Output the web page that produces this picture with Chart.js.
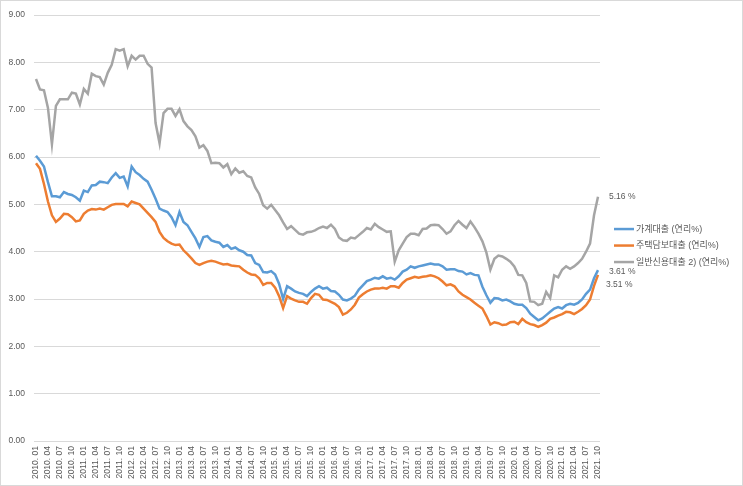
<!DOCTYPE html>
<html>
<head>
<meta charset="utf-8">
<script src="https://cdn.jsdelivr.net/npm/chart.js@4"></script>
<style>
  html, body { margin: 0; padding: 0; background: #fff; }
  #wrap { width: 743px; height: 486px; box-sizing: border-box; border: 1px solid #d9d9d9; position: relative; }
  #wrap canvas { position: absolute; left: 0; top: 0; }
</style>
</head>
<body>
<div id="wrap"><canvas id="c" width="743" height="486"></canvas></div>
<script>
// 기간: 2010.01 ~ 2021.10 (월별)
var startYear = 2010;
var monthCount = 142;

var seriesNames = ['가계대출 (연리%)', '주택담보대출 (연리%)', '일반신용대출 2) (연리%)'];
var seriesColors = ['#5b9bd5', '#ed7d31', '#a5a5a5'];

var household = [
  6.03, 5.92, 5.80, 5.47, 5.17, 5.17, 5.15, 5.26, 5.22, 5.20, 5.15, 5.08,
  5.29, 5.26, 5.40, 5.41, 5.48, 5.47, 5.45, 5.57, 5.66, 5.56, 5.59, 5.38,
  5.80, 5.68, 5.62, 5.54, 5.48, 5.31, 5.12, 4.91, 4.87, 4.84, 4.73, 4.56,
  4.84, 4.63, 4.56, 4.42, 4.28, 4.10, 4.31, 4.33, 4.24, 4.21, 4.19, 4.10,
  4.14, 4.06, 4.09, 4.03, 4.00, 3.93, 3.92, 3.76, 3.72, 3.57, 3.56, 3.59,
  3.52, 3.32, 3.00, 3.27, 3.22, 3.16, 3.13, 3.11, 3.06, 3.15, 3.22, 3.27,
  3.22, 3.24, 3.17, 3.16, 3.09, 2.99, 2.97, 3.01, 3.07, 3.20, 3.29, 3.38,
  3.41, 3.45, 3.43, 3.48, 3.43, 3.45, 3.41, 3.48, 3.58, 3.62, 3.69, 3.66,
  3.69, 3.71, 3.73, 3.75, 3.73, 3.73, 3.69, 3.62, 3.63, 3.63, 3.59, 3.58,
  3.52, 3.55, 3.51, 3.50, 3.26, 3.08, 2.92, 3.02, 3.01, 2.97, 2.99, 2.95,
  2.90, 2.88, 2.88, 2.81, 2.69, 2.62, 2.55, 2.59, 2.66, 2.73, 2.80, 2.83,
  2.80, 2.87, 2.90, 2.88, 2.92, 2.99, 3.11, 3.20, 3.44, 3.61
];

var mortgage = [
  5.87, 5.75, 5.43, 5.06, 4.77, 4.63, 4.70, 4.80, 4.79, 4.73, 4.64, 4.66,
  4.80, 4.87, 4.90, 4.89, 4.91, 4.89, 4.94, 4.99, 5.01, 5.01, 5.01, 4.96,
  5.06, 5.03, 5.00, 4.91, 4.82, 4.73, 4.63, 4.42, 4.29, 4.22, 4.17, 4.14,
  4.15, 4.03, 3.95, 3.86, 3.76, 3.72, 3.76, 3.79, 3.81, 3.79, 3.76, 3.73,
  3.74, 3.71, 3.70, 3.69, 3.62, 3.56, 3.52, 3.51, 3.44, 3.30, 3.34, 3.34,
  3.24, 3.06, 2.81, 3.06, 3.01, 2.97, 2.94, 2.94, 2.90, 3.02, 3.11, 3.09,
  2.99, 2.98, 2.94, 2.90, 2.83, 2.67, 2.71, 2.78, 2.88, 3.03, 3.10, 3.16,
  3.20, 3.22, 3.22, 3.24, 3.22, 3.27, 3.27, 3.24, 3.34, 3.41, 3.44, 3.47,
  3.45, 3.47, 3.48, 3.50, 3.48, 3.44, 3.37, 3.29, 3.31, 3.27, 3.16, 3.09,
  3.04, 2.99, 2.92, 2.86, 2.80, 2.64, 2.46, 2.51, 2.49, 2.45, 2.46, 2.51,
  2.52, 2.47, 2.58, 2.51, 2.47, 2.45, 2.41, 2.45, 2.50, 2.58, 2.61, 2.65,
  2.68, 2.73, 2.72, 2.68, 2.73, 2.79, 2.87, 2.99, 3.28, 3.51
];

var credit = [
  7.65, 7.43, 7.41, 7.04, 6.27, 7.08, 7.22, 7.22, 7.22, 7.36, 7.34, 7.11,
  7.44, 7.34, 7.76, 7.71, 7.69, 7.53, 7.78, 7.95, 8.28, 8.25, 8.28, 7.92,
  8.14, 8.06, 8.14, 8.14, 7.97, 7.89, 6.72, 6.29, 6.93, 7.02, 7.02, 6.87,
  7.01, 6.76, 6.65, 6.57, 6.44, 6.20, 6.25, 6.13, 5.87, 5.88, 5.87, 5.78,
  5.85, 5.64, 5.76, 5.67, 5.70, 5.60, 5.57, 5.36, 5.22, 4.98, 4.91, 4.99,
  4.88, 4.77, 4.62, 4.48, 4.54, 4.46, 4.38, 4.36, 4.41, 4.42, 4.45, 4.50,
  4.53, 4.50, 4.57, 4.48, 4.30, 4.24, 4.23, 4.30, 4.28, 4.35, 4.42, 4.50,
  4.47, 4.59, 4.52, 4.47, 4.42, 4.43, 3.79, 4.03, 4.17, 4.31, 4.38, 4.38,
  4.35, 4.48, 4.49, 4.56, 4.57, 4.56, 4.48, 4.38, 4.43, 4.56, 4.65, 4.57,
  4.50, 4.64, 4.52, 4.38, 4.22, 3.98, 3.62, 3.85, 3.92, 3.90, 3.85, 3.79,
  3.69, 3.51, 3.50, 3.34, 2.95, 2.94, 2.87, 2.90, 3.15, 3.02, 3.50, 3.46,
  3.62, 3.69, 3.64, 3.69, 3.76, 3.85, 4.00, 4.17, 4.77, 5.16
];

// 월 라벨 만들기
var months = [];
for (var i = 0; i < monthCount; i++) {
  var y = startYear + Math.floor(i / 12);
  var m = (i % 12) + 1;
  months.push(y + '. ' + (m < 10 ? '0' + m : m));
}

var textColor = '#595959';
var fontFamily = "'Liberation Sans', 'Noto Sans CJK KR', sans-serif";

// 끝 값 라벨 (x, y 보정)
var endLabelShift = [[11, 1], [8, 10], [11, 0]];

var endLabels = {
  id: 'endLabels',
  afterDatasetsDraw: function (chart) {
    var ctx = chart.ctx;
    ctx.save();
    ctx.font = '8.5px ' + fontFamily;
    ctx.fillStyle = textColor;
    ctx.textBaseline = 'middle';
    chart.data.datasets.forEach(function (ds, i) {
      var pts = chart.getDatasetMeta(i).data;
      var last = pts[pts.length - 1];
      var val = ds.data[ds.data.length - 1];
      ctx.fillText(val.toFixed(2) + ' %', last.x + endLabelShift[i][0], last.y + endLabelShift[i][1]);
    });
    ctx.restore();
  }
};

// 범례 (오른쪽)
var sideLegend = {
  id: 'sideLegend',
  afterDraw: function (chart) {
    var ctx = chart.ctx;
    var area = chart.chartArea;
    var x = area.right + 14;
    var y0 = (area.top + area.bottom) / 2 + 1;
    ctx.save();
    ctx.font = '9px ' + fontFamily;
    ctx.textBaseline = 'middle';
    chart.data.datasets.forEach(function (ds, i) {
      var y = y0 + i * 16.5;
      ctx.strokeStyle = ds.borderColor;
      ctx.lineWidth = 2.5;
      ctx.beginPath();
      ctx.moveTo(x, y);
      ctx.lineTo(x + 20, y);
      ctx.stroke();
      ctx.fillStyle = textColor;
      ctx.fillText(ds.label, x + 22, y);
    });
    ctx.restore();
  }
};

var datasets = [household, mortgage, credit].map(function (d, i) {
  return {
    label: seriesNames[i],
    data: d,
    borderColor: seriesColors[i],
    backgroundColor: seriesColors[i],
    borderWidth: 2.5,
    pointRadius: 0,
    tension: 0,
    fill: false
  };
});

new Chart(document.getElementById('c'), {
  type: 'line',
  data: { labels: months, datasets: datasets },
  plugins: [endLabels, sideLegend],
  options: {
    responsive: false,
    animation: false,
    layout: { padding: { left: 0, top: 11, right: 144, bottom: 0 } },
    plugins: { legend: { display: false }, tooltip: { enabled: false } },
    scales: {
      x: {
        offset: true,
        grid: { display: false, drawTicks: false },
        border: { display: false },
        afterFit: function (scale) { scale.height = 46; },
        ticks: {
          autoSkip: false,
          maxRotation: 90,
          minRotation: 90,
          padding: 5,
          color: textColor,
          font: { size: 8.5, family: fontFamily },
          callback: function (v, idx) { return idx % 3 === 0 ? this.getLabelForValue(v) : ''; }
        }
      },
      y: {
        min: 0,
        max: 9,
        afterFit: function (scale) { scale.width = 33; },
        grid: { color: '#d9d9d9', lineWidth: 1, drawTicks: false },
        border: { display: false },
        ticks: {
          stepSize: 1,
          padding: 9,
          color: textColor,
          font: { size: 8.5, family: fontFamily },
          callback: function (v) { return v.toFixed(2); }
        }
      }
    }
  }
});
</script>
</body>
</html>
